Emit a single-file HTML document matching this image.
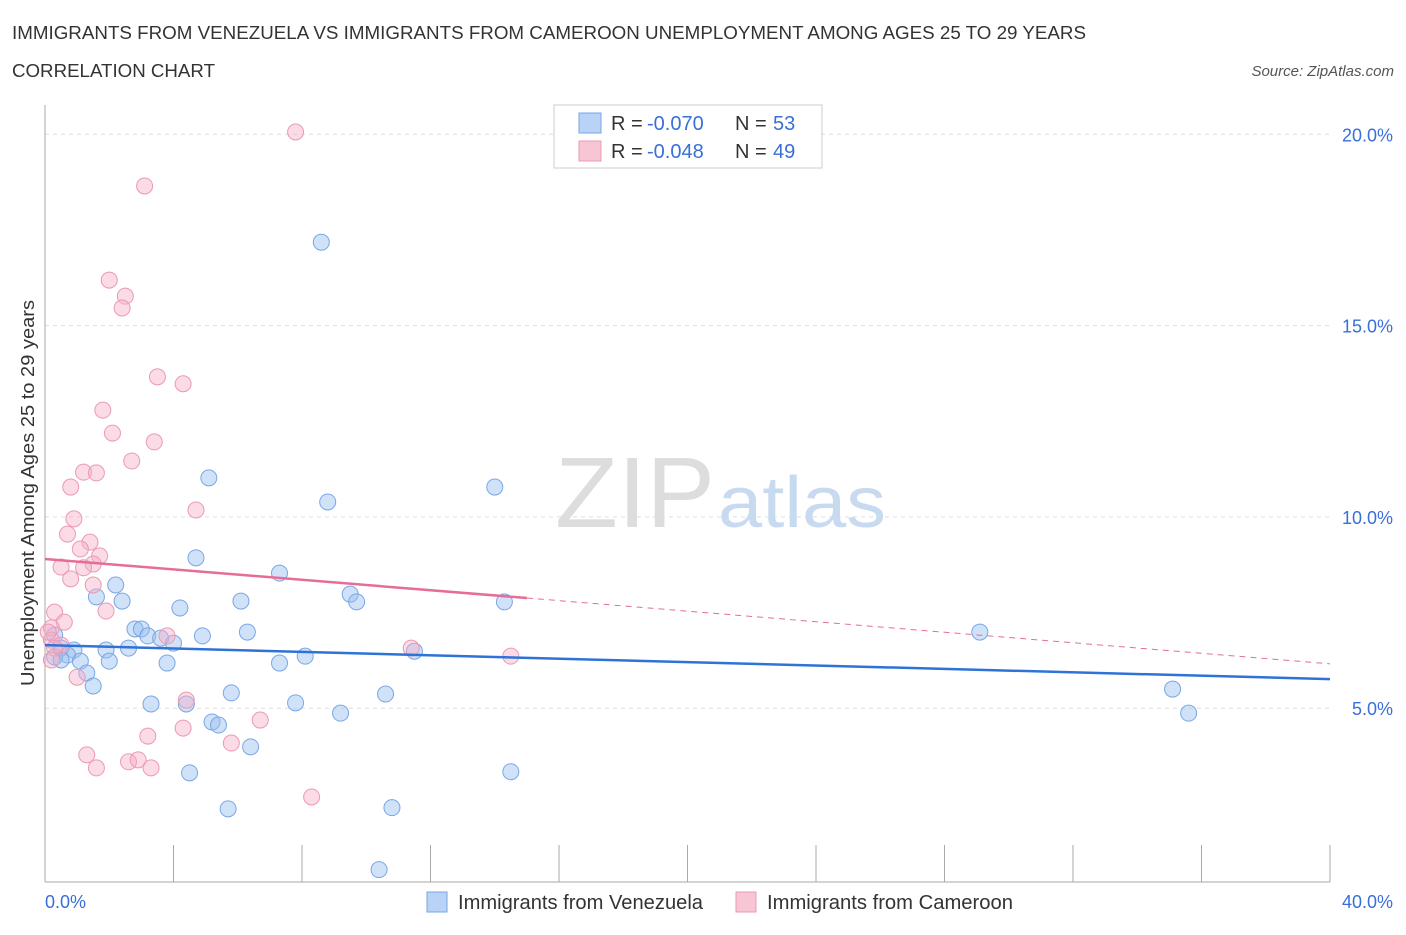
<!DOCTYPE html>
<html><head><meta charset="utf-8"><style>
body{margin:0;background:#fff;font-family:"Liberation Sans",sans-serif;}
svg text{font-family:"Liberation Sans",sans-serif;}
</style></head><body>
<svg id="chart" width="1406" height="930">
<text x="12" y="39" font-size="18" fill="#333" textLength="1074" lengthAdjust="spacingAndGlyphs">IMMIGRANTS FROM VENEZUELA VS IMMIGRANTS FROM CAMEROON UNEMPLOYMENT AMONG AGES 25 TO 29 YEARS</text>
<text x="12" y="77" font-size="18" fill="#333" textLength="203" lengthAdjust="spacingAndGlyphs">CORRELATION CHART</text>
<text x="1394" y="76" font-size="15" fill="#555" font-style="italic" text-anchor="end">Source: ZipAtlas.com</text>
<g id="grid"></g>
<text x="555" y="527" font-size="100" fill="#ddd" font-family="Liberation Serif" textLength="160" lengthAdjust="spacingAndGlyphs">ZIP</text>
<text x="718" y="527" font-size="72" fill="#c8daf0" textLength="168" lengthAdjust="spacingAndGlyphs">atlas</text>
<g id="marks"></g>
<text transform="translate(34,493) rotate(-90)" font-size="18" fill="#333" text-anchor="middle" textLength="386" lengthAdjust="spacingAndGlyphs">Unemployment Among Ages 25 to 29 years</text>
<text x="45" y="908" font-size="18" fill="#3a6fd8">0.0%</text>
<text x="1393" y="908" font-size="18" fill="#3a6fd8" text-anchor="end">40.0%</text>
<g>
<rect x="554" y="105" width="268" height="63" fill="#fff" stroke="#ccc"/>
<rect x="579" y="113" width="22" height="20" fill="#b8d3f5" stroke="#7aa6e6"/>
<text x="611" y="130" font-size="20" fill="#333">R = </text>
<text x="647" y="130" font-size="20" fill="#3a6fd8">-0.070</text>
<text x="735" y="130" font-size="20" fill="#333">N = </text>
<text x="773" y="130" font-size="20" fill="#3a6fd8">53</text>
<rect x="579" y="141" width="22" height="20" fill="#f8c5d5" stroke="#eb9ab3"/>
<text x="611" y="158" font-size="20" fill="#333">R = </text>
<text x="647" y="158" font-size="20" fill="#3a6fd8">-0.048</text>
<text x="735" y="158" font-size="20" fill="#333">N = </text>
<text x="773" y="158" font-size="20" fill="#3a6fd8">49</text>
</g>
<g>
<rect x="427" y="892" width="20" height="20" fill="#b8d3f5" stroke="#7aa6e6"/>
<text x="458" y="909" font-size="20" fill="#333" textLength="245" lengthAdjust="spacingAndGlyphs">Immigrants from Venezuela</text>
<rect x="736" y="892" width="20" height="20" fill="#f8c5d5" stroke="#eb9ab3"/>
<text x="767" y="909" font-size="20" fill="#333" textLength="246" lengthAdjust="spacingAndGlyphs">Immigrants from Cameroon</text>
</g>
</svg>
<script>
const yTicks=[5,10,15,20];
const xTickCount=10;
const blueX=[8.6,5.1,8.8,14.0,4.7,7.3,2.2,1.6,2.4,6.1,9.5,9.7,14.3,4.2,2.8,3.0,4.9,6.3,3.2,3.6,4.0,0.3,0.5,0.9,1.9,2.6,0.7,0.3,1.1,2.0,3.8,7.3,8.1,11.5,29.1,1.3,1.5,5.8,10.6,35.1,3.3,4.4,7.8,9.2,35.6,5.2,5.4,6.4,4.5,14.5,5.7,10.8,10.4,0.5];
const blueY=[17.18,11.02,10.39,10.78,8.93,8.53,8.22,7.91,7.80,7.80,7.98,7.78,7.78,7.62,7.07,7.07,6.89,6.99,6.89,6.83,6.70,6.91,6.57,6.52,6.52,6.57,6.39,6.34,6.23,6.23,6.18,6.18,6.36,6.49,6.99,5.92,5.58,5.40,5.37,5.50,5.11,5.11,5.14,4.87,4.87,4.64,4.56,3.99,3.31,3.34,2.37,2.40,0.78,6.26];
const pinkX=[7.8,3.1,2.0,2.5,2.4,3.5,4.3,1.8,2.1,3.4,2.7,1.2,1.6,0.8,4.7,0.9,0.7,1.4,1.1,1.7,0.5,1.5,1.2,0.8,1.5,1.9,0.3,0.6,0.2,0.2,0.5,3.8,11.4,14.5,1.0,4.4,4.3,6.7,3.2,5.8,1.3,2.6,2.9,1.6,3.3,8.3,0.1,0.3,0.2];
const pinkY=[20.06,18.65,16.19,15.77,15.46,13.66,13.48,12.79,12.19,11.96,11.46,11.17,11.15,10.78,10.18,9.95,9.55,9.34,9.16,8.98,8.69,8.77,8.67,8.38,8.22,7.54,7.51,7.25,7.10,6.78,6.65,6.89,6.57,6.36,5.81,5.21,4.48,4.69,4.27,4.09,3.78,3.60,3.65,3.44,3.44,2.68,6.99,6.57,6.26];
const blueTrend=[6.65,5.76];
const pinkTrend=[8.90,7.88,6.16];
const X0=45,X1=1330,Y0=899.5,PPU=38.26;
const xs=v=>X0+v/40*(X1-X0);
const ys=v=>Y0-v*PPU;
const NS='http://www.w3.org/2000/svg';
const grid=document.getElementById('grid'),marks=document.getElementById('marks');
function mk(tag,attrs,parent){const e=document.createElementNS(NS,tag);for(const k in attrs)e.setAttribute(k,attrs[k]);parent.appendChild(e);return e;}
yTicks.forEach(t=>{
 const l=mk('line',{x1:X0,x2:X1,y1:ys(t),y2:ys(t),stroke:'#ddd','stroke-dasharray':'4,4'},grid);
 
 
 const tx=mk('text',{x:1393,y:ys(t)+7,'font-size':18,fill:'#3a6fd8','text-anchor':'end'},grid);
 tx.textContent=t.toFixed(1)+'%';
 
 
});
const ax=mk('line',{x1:X0,x2:X0,y1:105,y2:882,stroke:'#aaa'},grid);


const bx=mk('line',{x1:X0,x2:X1,y1:882,y2:882,stroke:'#aaa'},grid);


for(let i=0;i<=xTickCount;i++){
 const x=xs(i*40/xTickCount);
 const t=mk('line',{x1:x,x2:x,y1:845,y2:882,stroke:'#aaa'},grid);
 
 
}
blueX.forEach((v,i)=>{
 const c=mk('circle',{cx:xs(v),cy:ys(blueY[i]),r:8,fill:'rgba(150,190,240,0.45)',stroke:'#7aa6e6','stroke-width':1},marks);
 
 
});
pinkX.forEach((v,i)=>{
 const c=mk('circle',{cx:xs(v),cy:ys(pinkY[i]),r:8,fill:'rgba(245,175,200,0.45)',stroke:'#eb9ab3','stroke-width':1},marks);
 
 
});
const bl=mk('line',{x1:xs(0),y1:ys(blueTrend[0]),x2:xs(40),y2:ys(blueTrend[1]),stroke:'#2f73d6','stroke-width':2.5},marks);


const pl=mk('line',{x1:xs(0),y1:ys(pinkTrend[0]),x2:xs(15),y2:ys(pinkTrend[1]),stroke:'#e56d98','stroke-width':2.5},marks);


const pd=mk('line',{x1:xs(15),y1:ys(pinkTrend[1]),x2:xs(40),y2:ys(pinkTrend[2]),stroke:'#e56d98','stroke-width':1,'stroke-dasharray':'6,5'},marks);


</script>
</body></html>
